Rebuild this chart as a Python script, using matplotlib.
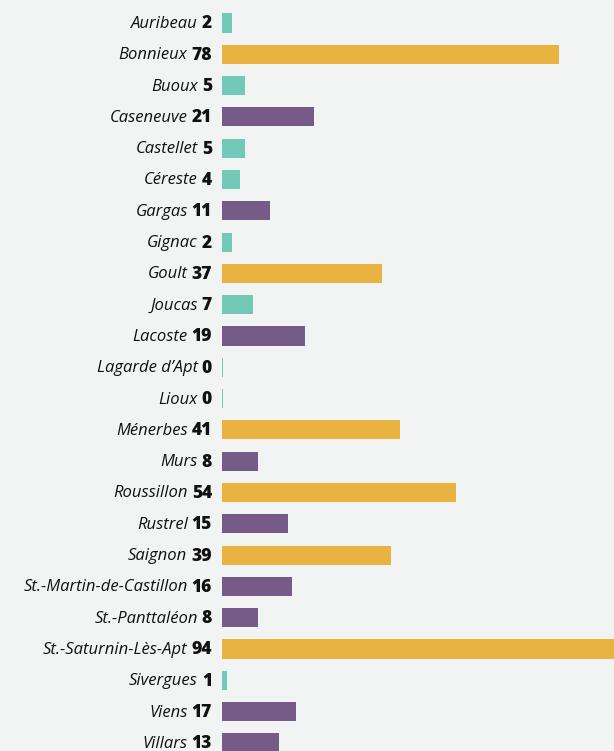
import matplotlib
matplotlib.use("Agg")
import matplotlib.pyplot as plt
import matplotlib.transforms as mtrans

names = ["Auribeau", "Bonnieux", "Buoux", "Caseneuve", "Castellet", "Céreste",
         "Gargas", "Gignac", "Goult", "Joucas", "Lacoste", "Lagarde d’Apt",
         "Lioux", "Ménerbes", "Murs", "Roussillon", "Rustrel", "Saignon",
         "St.-Martin-de-Castillon", "St.-Panttaléon", "St.-Saturnin-Lès-Apt",
         "Sivergues", "Viens", "Villars"]
values = [2, 78, 5, 21, 5, 4, 11, 2, 37, 7, 19, 0, 0, 41, 8, 54, 15, 39, 16, 8, 94, 1, 17, 13]

teal = "#72c9b7"
purple = "#765a88"
gold = "#e9b342"
bg = "#f2f4f3"

def pick_color(v):
    if v < 8:
        return teal
    if v < 30:
        return purple
    return gold

fig = plt.figure(figsize=(6.14, 7.51), dpi=100, facecolor=bg)
ax = fig.add_axes([222 / 614, 0, 1 - 222 / 614, 1])
ax.set_facecolor(bg)

rows = list(range(len(names)))
# tiny minimum so zero rows still show a sliver
widths = [v + 0.25 for v in values]
ax.barh(rows, widths, height=0.61, color=[pick_color(v) for v in values])
ax.set_xlim(0, 91)
ax.set_ylim((751 - 23) / 31.3, -23 / 31.3)
ax.axis("off")

fam = ["Open Sans", "DejaVu Sans"]
fs = 12
label_x = 212 / 614
trans = mtrans.blended_transform_factory(fig.transFigure, ax.transData)
num_texts = []
for r, v in zip(rows, values):
    t = fig.text(label_x, r + 0.03, str(v), transform=trans, ha="right", va="center",
                 fontsize=fs + 0.5, fontweight="heavy", family=fam, color="#111111")
    num_texts.append(t)

fig.canvas.draw()
renderer = fig.canvas.get_renderer()
for r, name, t in zip(rows, names, num_texts):
    bb = t.get_window_extent(renderer)
    x0 = (bb.x0 - 4) / fig.bbox.width
    fig.text(x0, r + 0.03, name, transform=trans, ha="right", va="center",
             fontsize=fs, style="italic", family=fam, color="#111111")

fig.savefig("out.png", dpi=100, facecolor=bg)
